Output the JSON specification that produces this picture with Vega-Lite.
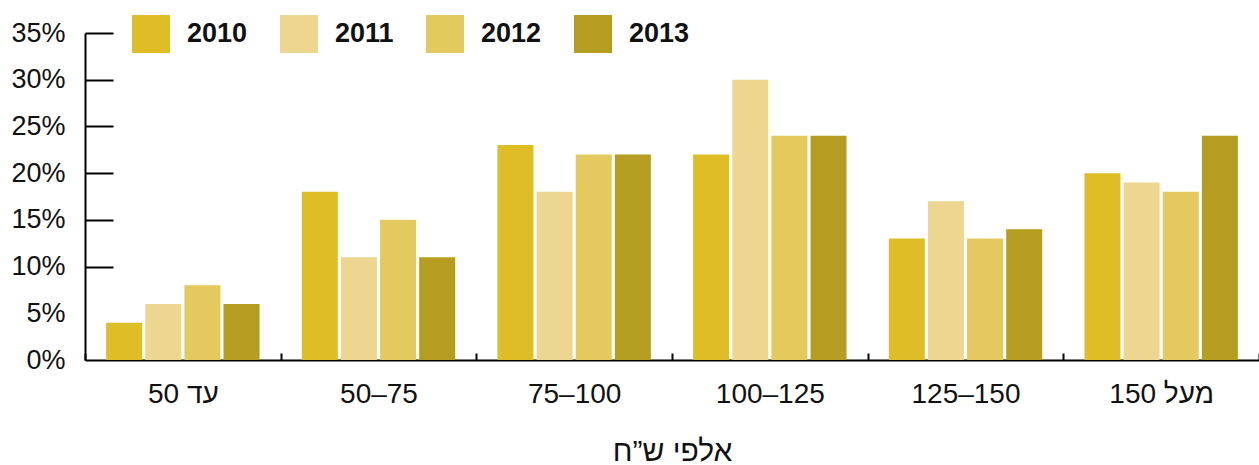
{
  "$schema": "https://vega.github.io/schema/vega-lite/v6.json",
  "width": 1174,
  "height": 327,
  "autosize": {"type": "none"},
  "padding": {"left": 85, "top": 33, "right": 0, "bottom": 105},
  "background": "white",
  "data": {
    "values": [
      {"range": "עד 50", "year": "2010", "share": 0.04},
      {"range": "עד 50", "year": "2011", "share": 0.06},
      {"range": "עד 50", "year": "2012", "share": 0.08},
      {"range": "עד 50", "year": "2013", "share": 0.06},
      {"range": "50–75", "year": "2010", "share": 0.18},
      {"range": "50–75", "year": "2011", "share": 0.11},
      {"range": "50–75", "year": "2012", "share": 0.15},
      {"range": "50–75", "year": "2013", "share": 0.11},
      {"range": "75–100", "year": "2010", "share": 0.23},
      {"range": "75–100", "year": "2011", "share": 0.18},
      {"range": "75–100", "year": "2012", "share": 0.22},
      {"range": "75–100", "year": "2013", "share": 0.22},
      {"range": "100–125", "year": "2010", "share": 0.22},
      {"range": "100–125", "year": "2011", "share": 0.30},
      {"range": "100–125", "year": "2012", "share": 0.24},
      {"range": "100–125", "year": "2013", "share": 0.24},
      {"range": "125–150", "year": "2010", "share": 0.13},
      {"range": "125–150", "year": "2011", "share": 0.17},
      {"range": "125–150", "year": "2012", "share": 0.13},
      {"range": "125–150", "year": "2013", "share": 0.14},
      {"range": "מעל 150", "year": "2010", "share": 0.20},
      {"range": "מעל 150", "year": "2011", "share": 0.19},
      {"range": "מעל 150", "year": "2012", "share": 0.18},
      {"range": "מעל 150", "year": "2013", "share": 0.24}
    ]
  },
  "mark": {"type": "bar"},
  "encoding": {
    "x": {
      "field": "range",
      "type": "nominal",
      "sort": ["עד 50", "50–75", "75–100", "100–125", "125–150", "מעל 150"],
      "scale": {"paddingInner": 0, "paddingOuter": 0},
      "axis": {
        "title": "אלפי ש”ח",
        "labelAngle": 0,
        "tickBand": "extent",
        "tickSize": -7,
        "tickWidth": 2,
        "tickColor": "black",
        "domainColor": "black",
        "domainWidth": 2,
        "labelPadding": 27,
        "labelFont": "Liberation Sans",
        "labelFontSize": 28,
        "labelColor": "#111111",
        "titleFont": "Liberation Sans",
        "titleFontSize": 30,
        "titleFontWeight": "normal",
        "titleColor": "#111111",
        "titlePadding": 28
      }
    },
    "xOffset": {
      "field": "year",
      "type": "nominal",
      "scale": {"paddingInner": 0.08, "paddingOuter": 0.54}
    },
    "y": {
      "field": "share",
      "type": "quantitative",
      "scale": {"domain": [0, 0.35], "nice": false, "zero": true},
      "axis": {
        "title": null,
        "values": [0, 0.05, 0.1, 0.15, 0.2, 0.25, 0.3, 0.35],
        "format": ".0%",
        "grid": false,
        "tickSize": -28,
        "tickWidth": 2,
        "tickColor": "black",
        "tickOpacity": {"condition": {"test": "datum.value === 0.05 || datum.value === 0", "value": 0}, "value": 1},
        "domainColor": "black",
        "domainWidth": 2,
        "labelPadding": 48,
        "labelFlush": false,
        "labelFont": "Liberation Sans",
        "labelFontSize": 27,
        "labelColor": "#111111"
      }
    },
    "color": {
      "field": "year",
      "type": "nominal",
      "scale": {
        "domain": ["2010", "2011", "2012", "2013"],
        "range": ["#DFBD27", "#EDD790", "#E4C95E", "#B59D21"]
      },
      "legend": {
        "orient": "none",
        "legendX": 47,
        "legendY": -18,
        "direction": "horizontal",
        "title": null,
        "symbolType": "square",
        "symbolSize": 1444,
        "symbolStrokeWidth": 0,
        "symbolOpacity": 1,
        "labelFont": "Liberation Sans",
        "labelFontSize": 27,
        "labelFontWeight": "bold",
        "labelColor": "#111111",
        "labelOffset": 17,
        "columnPadding": 32,
        "labelLimit": 200
      }
    }
  },
  "config": {"view": {"stroke": null}}
}
